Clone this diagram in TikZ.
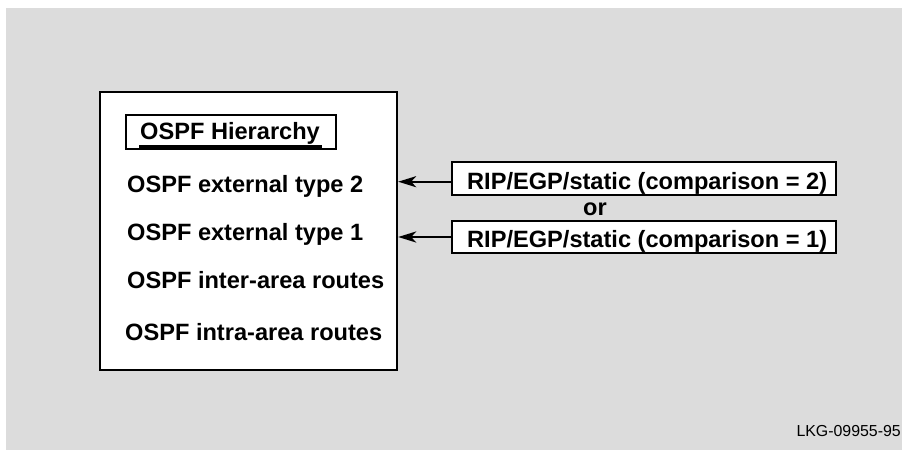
\documentclass[tikz,border=0pt]{standalone}
\usepackage{fontspec}
\setmainfont{Liberation Sans}
\usetikzlibrary{arrows.meta}
\definecolor{bggray}{RGB}{220,220,220}
\begin{document}
\begin{tikzpicture}[x=1pt,y=-1pt,
  lbl/.style={inner sep=0pt, anchor=base west, font=\fontsize{23.6}{28}\selectfont\bfseries},
  frame/.style={draw=black, line width=2.3pt, fill=white, inner sep=0pt},
  arr/.style={line width=2.4pt, -{Stealth[length=18pt,width=11pt,inset=5pt]}}]
\useasboundingbox (0,0) rectangle (902,450);
\fill[bggray] (6,8) rectangle (902,450);
\node[frame, minimum width=297pt, minimum height=278pt] (ospf) at (248.5,231) {};
\node[frame, minimum width=210pt, minimum height=34pt] (hierbox) at (231,132) {};
\node[lbl] (hier) at (140,139) {OSPF Hierarchy};
\draw[line width=3pt] ([xshift=-1pt,yshift=-7.5pt]hier.base west) -- ([xshift=2pt,yshift=-7.5pt]hier.base east);
\node[lbl] (ext2) at (127,192.3) {OSPF external type 2};
\node[lbl] (ext1) at (127,240.7) {OSPF external type 1};
\node[lbl] (inter) at (127,288.7) {OSPF inter-area routes};
\node[lbl] (intra) at (125,340) {OSPF intra-area routes};
\node[frame, minimum width=384pt, minimum height=33pt] (rip2) at (644,178.5) {};
\node[lbl] (rip2t) at (467,189.3) {RIP/EGP/static (comparison = 2)};
\node[frame, minimum width=384pt, minimum height=32pt] (rip1) at (644,237) {};
\node[lbl] (rip1t) at (467,247.7) {RIP/EGP/static (comparison = 1)};
\node[lbl] (or) at (583,215) {or};
\node[inner sep=0pt, anchor=base east, font=\fontsize{15.9}{19}\selectfont] (lkg) at (901,436) {LKG-09955-95};
\coordinate (a2) at ([yshift=-3.2pt]rip2.west);
\coordinate (a1) at (rip1.west);
\draw[arr] (a2) -- (a2 -| ospf.east);
\draw[arr] (a1) -- (a1 -| ospf.east);
\end{tikzpicture}
\end{document}
